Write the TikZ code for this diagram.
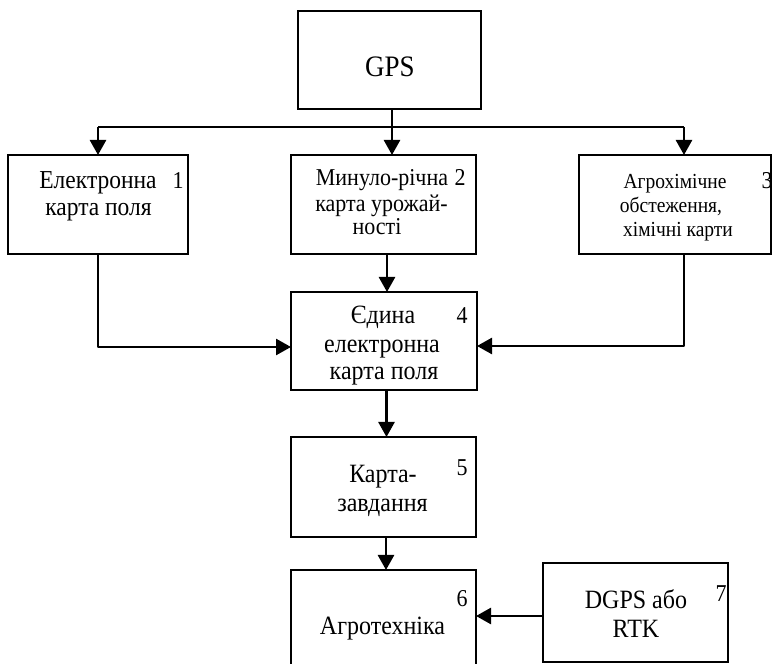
\documentclass[tikz,border=0pt]{standalone}
\usepackage{fontspec}
\setmainfont{Liberation Serif}
\usetikzlibrary{arrows.meta}

\begin{document}
\begin{tikzpicture}[x=1pt,y=1pt,
  blk/.style={draw=drawColor,line width=1.6pt,fill=fillColor,inner sep=0pt,outer sep=0pt},
  lbl/.style={text=drawColor,anchor=base,inner sep=0pt,outer sep=0pt,yscale=1.1},
  wire/.style={draw=drawColor,line width=2.6pt,line join=round},
  arr/.style={wire,-{Triangle[length=15pt,width=16pt]}}]
\definecolor{fillColor}{RGB}{255,255,255}
\definecolor{drawColor}{RGB}{0,0,0}
\path[use as bounding box,fill=fillColor] (0,0) rectangle (772,664);
\begin{scope}
\path[clip] (0,0) rectangle (772,664);

\node[blk,minimum width=183pt,minimum height=98pt] (gps) at (389.5,604.0) {};
\node[blk,minimum width=180pt,minimum height=99pt] (b1) at ( 98.0,459.5) {};
\node[blk,minimum width=185pt,minimum height=99pt] (b2) at (383.5,459.5) {};
\node[blk,minimum width=192pt,minimum height=99pt] (b3) at (675.0,459.5) {};
\node[blk,minimum width=186pt,minimum height=98pt] (b4) at (384.0,323.0) {};
\node[blk,minimum width=185pt,minimum height=100pt] (b5) at (383.5,177.0) {};
\node[blk,minimum width=185pt,minimum height=120pt] (b6) at (383.5, 34.0) {};
\node[blk,minimum width=185pt,minimum height=99pt] (b7) at (635.5, 51.5) {};

\node[lbl,scale=2.70] (tgps) at (390.0,587.0) {GPS};

\node[lbl,scale=2.35] (t1a) at ( 98.0,475.0) {Електронна};
\node[lbl,scale=2.35] (t1b) at ( 98.5,448.0) {карта поля};
\node[lbl,scale=2.20] (n1) at (178.0,475.0) {1};

\node[lbl,scale=2.20] (t2a) at (382.0,478.0) {Минуло-річна};
\node[lbl,scale=2.20] (t2b) at (381.5,452.0) {карта урожай-};
\node[lbl,scale=2.20] (t2c) at (377.0,429.0) {ності};
\node[lbl,scale=2.20] (n2) at (460.0,478.0) {2};

\node[lbl,scale=1.95] (t3a) at (675.0,475.0) {Агрохімічне};
\node[lbl,scale=1.95] (t3b) at (671.0,451.0) {обстеження,};
\node[lbl,scale=1.95] (t3c) at (678.0,427.0) {хімічні карти};
\node[lbl,scale=2.20] (n3) at (767.0,475.0) {3};

\node[lbl,scale=2.40] (t4a) at (383.0,340.0) {Єдина};
\node[lbl,scale=2.40] (t4b) at (382.0,311.0) {електронна};
\node[lbl,scale=2.40] (t4c) at (384.0,284.0) {карта поля};
\node[lbl,scale=2.20] (n4) at (462.0,340.0) {4};

\node[lbl,scale=2.40] (t5a) at (383.0,181.0) {Карта-};
\node[lbl,scale=2.40] (t5b) at (382.5,152.0) {завдання};
\node[lbl,scale=2.20] (n5) at (462.0,188.0) {5};

\node[lbl,scale=2.40] (t6) at (382.5, 29.0) {Агротехніка};
\node[lbl,scale=2.20] (n6) at (462.0, 57.0) {6};

\node[lbl,scale=2.40] (t7a) at (636.0, 55.0) {DGPS або};
\node[lbl,scale=2.40] (t7b) at (636.0, 26.0) {RTK};
\node[lbl,scale=2.20] (n7) at (721.0, 62.0) {7};

\coordinate (fork) at (392.0,537.0);
\coordinate (b3top) at ([xshift=9pt]b3.north);
\coordinate (b3bot) at ([xshift=9pt]b3.south);

\path[wire] (fork |- gps.south) -- (fork);
\path[wire] (b1.north |- fork) -- (b3top |- fork);
\path[arr] (b1.north |- fork) -- (b1.north);
\path[arr] (fork) -- (fork |- b2.north);
\path[arr] (b3top |- fork) -- (b3top);

\path[arr] ([xshift=3.5pt]b2.south) -- ([xshift=3.5pt]b2.south |- b4.north);
\path[arr] (b1.south) |- ([yshift=-6pt]b4.west);
\path[arr] (b3bot) |- ([yshift=-5pt]b4.east);
\path[arr] ([xshift=2.5pt]b4.south) -- ([xshift=2.5pt]b4.south |- b5.north);
\path[arr] ([xshift=2.5pt]b5.south) -- ([xshift=2.5pt]b5.south |- b6.north);
\path[arr] ([yshift=-3.5pt]b7.west) -- ([yshift=-3.5pt]b7.west -| b6.east);
\end{scope}
\end{tikzpicture}
\end{document}
